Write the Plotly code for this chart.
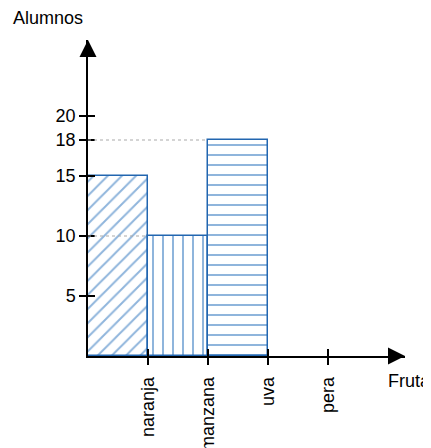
import plotly.graph_objects as go

# ---- data ----
frutas = ["naranja", "manzana", "uva", "pera"]
alumnos = [15, 10, 18, 0]
patrones = ["/", "|", "-", ""]
y_ticks = [5, 10, 15, 18, 20]
y_title = "Alumnos"
x_title = "Fruta"

# ---- layout geometry (pixels, page coordinates; page body has 8px margin) ----
PAGE_OFF = 8
EXTRA_B = 24    # figure extends below the window so rotated labels fit without automargin push
EXTRA_R = 8
W, H = 431 - PAGE_OFF + EXTRA_R, 448 - PAGE_OFF + EXTRA_B
ML, MR, MT, MB = 88 - PAGE_OFF, 26 + EXTRA_R, 40 - PAGE_OFF, 92 + EXTRA_B
PW, PH = W - ML - MR, H - MT - MB
X_UNIT = 60.0   # px per category
Y_UNIT = 12.0   # px per student
x_max = PW / X_UNIT
y_max = PH / Y_UNIT

def px_x(p):
    return (p - PAGE_OFF - ML) / PW

def px_y(p):
    return (MT + PH - (p - PAGE_OFF)) / PH

FONT = "Liberation Sans, Arial, sans-serif"
FS = 18
OUTLINE = "#2266b0"
PATTERN = "#8fb5dc"

x_pos = [i + 0.5 for i in range(len(frutas))]
tick_pos = [i + 1 for i in range(len(frutas))]
bar_vals = [v if v > 0 else None for v in alumnos]

fig = go.Figure()

fig.add_trace(go.Bar(
    x=x_pos, y=bar_vals, width=1.0,
    marker=dict(
        color="white",
        line=dict(color=OUTLINE, width=1.5),
        pattern=dict(shape=patrones, fgcolor=PATTERN, bgcolor="white",
                     size=10, solidity=0.2, fillmode="replace"),
    ),
    hoverinfo="skip", showlegend=False,
))

# dotted guide lines from the axis to each bar not touching the axis
for i, v in enumerate(alumnos):
    if i > 0 and v > 0:
        fig.add_shape(type="line", xref="x", yref="y", x0=0, x1=i, y0=v, y1=v,
                      line=dict(color="#aaaaaa", width=1.2, dash="dot"), layer="above")

# arrow heads at the end of the axes
fig.add_trace(go.Scatter(
    x=[0, x_max], y=[y_max, 0], mode="markers",
    marker=dict(symbol=["arrow-up", "arrow-right"], size=17, color="black",
                line=dict(width=0)),
    cliponaxis=False, hoverinfo="skip", showlegend=False,
    xaxis="x2", yaxis="y2",
))

axis_common = dict(showgrid=False, zeroline=False, tickwidth=1.5, tickcolor="black", ticklen=7)

fig.update_layout(
    width=W, height=H,
    margin=dict(l=ML, r=MR, t=MT, b=MB),
    paper_bgcolor="white", plot_bgcolor="white",
    font=dict(family=FONT, size=FS, color="black"),
    bargap=0,
    xaxis=dict(range=[0, x_max], tickvals=tick_pos, ticktext=frutas, ticks="outside",
               tickangle=-90, showline=True, linecolor="black", linewidth=1.5,
               ticklabelstandoff=5, fixedrange=True, **axis_common),
    yaxis=dict(range=[0, y_max], tickvals=y_ticks, ticktext=[str(t) for t in y_ticks],
               ticks="outside", showline=True, linecolor="black", linewidth=1.5,
               fixedrange=True, **axis_common),
    xaxis2=dict(overlaying="x", range=[0, x_max], tickvals=tick_pos, ticks="inside",
                showticklabels=False, showline=False, fixedrange=True, **axis_common),
    yaxis2=dict(overlaying="y", range=[0, y_max], tickvals=y_ticks, ticks="inside",
                showticklabels=False, showline=False, fixedrange=True, **axis_common),
    annotations=[
        dict(text=y_title, xref="paper", yref="paper", x=px_x(11), y=px_y(18),
             xanchor="left", yanchor="middle", showarrow=False, font=dict(size=FS)),
        dict(text=x_title, xref="paper", yref="paper", x=px_x(386), y=px_y(381),
             xanchor="left", yanchor="middle", showarrow=False, font=dict(size=FS)),
    ],
)

fig.write_html("out.html")
